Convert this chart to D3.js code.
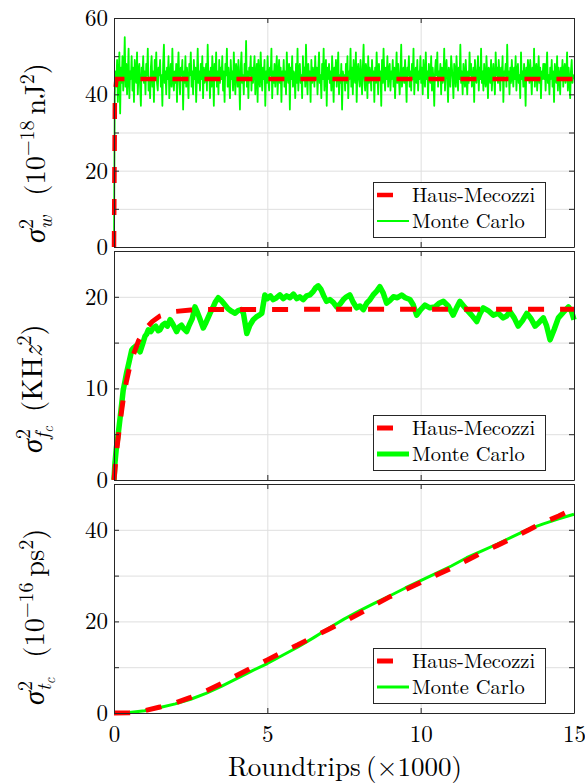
<!DOCTYPE html>
<html><head><meta charset="utf-8">
<script src="https://cdn.jsdelivr.net/npm/d3@7"></script>
<style>body{margin:0;background:#fff}svg{display:block}</style>
</head><body><svg id="c" width="585" height="783"></svg>
<script>
// ---------------- DATA ----------------
const xTickValues = [0, 5, 10, 15];
const xTickLabels = ["0", "5", "10", "15"];
const seriesNames = ["Haus-Mecozzi", "Monte Carlo"];

// Panel 1: sigma_w^2 (1e-18 nJ^2)
const yTicks1 = [0, 10, 20, 30, 40, 50, 60];
const yTickLabels1 = [0, 20, 40, 60];
const hm1 = [[0, 0], [0.03, 40], [0.08, 44], [15, 44]];
const mc1 = [
0,40,46,42,49,38,45,51,35,47,43,50,41,46,55,42,48,40,45,52,
39,46,44,50,41,47,38,49,45,43,51,40,46,48,42,37,47,44,50,43,
46,40,48,45,52,41,44,39,47,50,42,46,38,49,44,51,43,41,47,45,
49,42,45,37,48,53,43,46,40,47,44,50,39,45,48,42,52,44,41,46,
43,48,38,46,51,44,40,47,45,49,36,46,43,50,42,47,44,39,48,45,
51,42,46,40,49,44,47,38,45,52,43,46,41,48,44,50,39,47,43,45,
48,41,53,44,46,39,47,42,50,45,37,48,44,51,42,46,40,49,43,47,
44,50,41,46,38,48,45,52,42,47,43,39,49,44,46,41,51,45,40,48,
46,42,49,44,36,47,51,43,45,40,48,44,54,42,46,39,47,45,50,41,
47,43,46,50,40,45,48,38,49,44,42,51,45,41,47,44,49,37,46,43,
50,44,41,47,45,52,39,46,43,48,42,46,50,40,45,49,43,47,38,46,
44,49,42,46,40,51,45,43,48,36,47,44,50,42,46,45,39,48,43,52,
41,46,48,43,45,39,50,44,47,42,53,45,40,48,44,46,38,49,43,47,
45,42,50,44,47,40,46,51,43,45,39,48,44,52,41,46,49,37,47,44,
48,43,46,41,50,45,38,47,44,49,42,46,51,40,45,43,48,36,46,44,
45,41,48,43,50,39,46,44,52,42,47,40,49,45,43,51,38,46,48,44,
42,49,45,40,47,53,44,41,48,46,39,50,43,47,45,41,49,44,46,38,
47,43,51,45,40,48,44,46,37,49,43,52,45,41,47,44,50,42,46,48,
41,46,44,49,42,47,39,45,51,43,48,44,40,46,53,42,45,47,43,49,
44,38,47,45,50,42,46,41,48,44,52,40,45,47,43,49,41,46,44,50,
43,47,40,49,45,42,51,44,46,39,48,45,43,50,41,47,44,37,46,49,
45,51,42,46,44,48,40,47,43,45,52,41,46,49,44,38,47,45,42,50,
47,44,39,48,46,42,50,45,41,47,44,53,43,46,40,48,45,42,49,44,
40,46,43,51,45,48,42,44,47,38,49,45,43,46,50,41,47,44,52,43,
46,41,48,44,42,50,45,39,47,46,43,49,41,45,48,44,40,51,45,47,
43,49,45,41,47,44,50,38,46,45,48,42,53,44,46,40,47,43,49,45,
42,47,44,50,41,46,48,43,45,39,51,44,46,42,48,45,37,47,44,49,
46,43,49,45,40,47,44,52,42,46,48,41,45,50,43,47,39,46,44,48,
44,48,41,46,51,43,45,40,47,44,49,42,46,38,48,45,43,50,41,47,
45,40,47,44,49,42,46,48,43,45,51,41,47,44,39,46,49,43,45,44];

// Panel 2: sigma_fc^2 (KHz^2)
const yTicks2 = [0, 5, 10, 15, 20, 25];
const yTickLabels2 = [0, 10, 20];
const hm2 = [[0,0],[0.1,3.6],[0.2,6.4],[0.3,8.8],[0.4,10.7],[0.5,12.2],[0.6,13.4],[0.8,15.2],[1.0,16.4],[1.25,17.3],[1.5,17.9],[2,18.4],[2.5,18.55],[3,18.62],[15,18.65]];
const mc2 = [[0,0],[0.03,1.8],[0.08,3.6],[0.14,5.1],[0.2,6.8],[0.3,9.8],[0.36,10.8],[0.41,11.7],[0.5,13.0],[0.58,14.2],[0.63,14.4],[0.7,14.6],[0.78,14.3],[0.85,14.0],[0.93,14.8],[1.01,15.7],[1.06,15.9],[1.12,16.4],[1.2,16.2],[1.28,16.6],[1.36,16.8],[1.44,16.3],[1.5,16.4],[1.58,16.9],[1.66,17.1],[1.74,16.8],[1.83,17.5],[1.92,17.0],[2.04,16.2],[2.12,16.7],[2.2,16.9],[2.28,16.5],[2.37,16.2],[2.45,16.9],[2.55,17.6],[2.64,18.9],[2.72,18.3],[2.8,17.6],[2.91,16.6],[3.0,17.2],[3.13,18.2],[3.22,18.8],[3.3,19.4],[3.4,19.9],[3.5,19.6],[3.62,19.1],[3.72,18.7],[3.84,18.4],[3.95,18.2],[4.05,18.5],[4.15,18.6],[4.22,18.2],[4.33,16.0],[4.43,16.9],[4.54,17.5],[4.64,17.8],[4.74,18.0],[4.82,18.2],[4.92,20.2],[5.0,19.8],[5.1,20.1],[5.19,19.7],[5.3,19.9],[5.41,20.2],[5.52,19.8],[5.63,20.1],[5.74,19.9],[5.85,20.3],[5.96,19.8],[6.06,20.0],[6.17,19.7],[6.28,20.1],[6.39,20.2],[6.5,20.6],[6.58,21.0],[6.66,21.2],[6.75,20.8],[6.84,20.1],[6.93,19.5],[7.04,19.7],[7.15,19.4],[7.26,18.9],[7.37,19.2],[7.48,19.7],[7.58,20.0],[7.69,20.2],[7.8,19.4],[7.91,18.8],[8.02,19.0],[8.13,18.6],[8.24,19.3],[8.35,19.7],[8.45,20.2],[8.56,20.6],[8.67,21.1],[8.78,20.4],[8.89,19.3],[9.0,19.6],[9.11,20.0],[9.24,19.9],[9.38,20.2],[9.5,19.9],[9.65,19.7],[9.76,19.1],[9.87,18.0],[10.0,18.6],[10.14,19.1],[10.3,18.8],[10.47,18.9],[10.6,19.3],[10.74,19.5],[10.9,19.0],[11.06,18.0],[11.17,18.8],[11.28,19.5],[11.4,19.0],[11.5,18.6],[11.66,18.0],[11.83,17.3],[11.94,18.2],[12.04,18.8],[12.2,18.5],[12.37,18.0],[12.53,18.2],[12.69,17.7],[12.8,17.9],[12.91,18.4],[13.05,17.7],[13.18,16.8],[13.32,17.4],[13.46,18.2],[13.6,17.6],[13.73,16.8],[13.86,17.2],[14.0,17.7],[14.1,16.9],[14.22,15.3],[14.35,16.4],[14.49,17.7],[14.65,18.3],[14.82,18.9],[14.92,18.4],[15.0,17.5]];

// Panel 3: sigma_tc^2 (1e-16 ps^2)
const yTicks3 = [0, 10, 20, 30, 40, 50];
const yTickLabels3 = [0, 20, 40];
const hm3 = [[0,0],[0.5,0.05],[1,0.5],[1.5,1.3],[2,2.2],[2.5,3.4],[3,4.8],[3.5,6.4],[4,8.2],[4.5,9.9],[5,11.6],[5.5,13.3],[6,14.9],[6.5,16.6],[7,18.3],[7.5,19.9],[8,21.7],[8.5,23.6],[9,25.4],[9.5,26.9],[10,28.5],[10.5,30.1],[11,31.6],[11.5,33.3],[12,35.0],[12.5,36.6],[13,38.2],[13.5,39.9],[14,41.6],[14.5,43.0],[15,44.6]];
const mc3 = [[0,0],[0.5,0.1],[1,0.5],[1.5,1.2],[2,2.0],[2.5,3.0],[3,4.3],[3.5,5.8],[4,7.5],[4.5,9.2],[5,10.8],[5.5,12.6],[6,14.4],[6.5,16.4],[7,18.5],[7.5,20.5],[8,22.3],[8.5,24.0],[9,25.6],[9.5,27.3],[10,28.9],[10.5,30.5],[11,32.1],[11.5,33.9],[12,35.4],[12.5,36.9],[13,38.5],[13.5,40.1],[14,41.3],[14.5,42.4],[15,43.4]];

// ---------------- DRAW ----------------
const FONT = '"Latin Modern Roman"';
const svg = d3.select("#c");
const L = 114, R = 574, PH = 229;
const axisColor = "#262626", gridColor = "#dfdfdf";
const RED = "#ff0000", GREEN = "#00ff00";
const x = d3.scaleLinear().domain([0, 15]).range([L, R]);

const mc1pts = mc1.map((v, i) => [i * 15 / (mc1.length - 1), v]);

const panels = [
  {top: 18, domain: [0, 60], ticks: yTicks1, labels: yTickLabels1, hm: hm1, mc: mc1pts, hmW: 4.5, mcW: 1.8, legTop: 182, legMcW: 2},
  {top: 251, domain: [0, 25], ticks: yTicks2, labels: yTickLabels2, hm: hm2, mc: mc2, hmW: 5, mcW: 5.5, legTop: 415, legMcW: 5},
  {top: 484, domain: [0, 50], ticks: yTicks3, labels: yTickLabels3, hm: hm3, mc: mc3, hmW: 5, mcW: 3, legTop: 648, legMcW: 3}
];

panels.forEach((p, pi) => {
  const y = d3.scaleLinear().domain(p.domain).range([p.top + PH, p.top]);
  const g = svg.append("g");
  g.append("g").attr("transform", `translate(${L},0)`)
    .call(d3.axisLeft(y).tickValues(p.ticks).tickSize(-(R - L)).tickFormat(""))
    .call(s => { s.select(".domain").remove(); s.selectAll("line").attr("stroke", gridColor); });
  g.append("g").attr("transform", `translate(0,${p.top + PH})`)
    .call(d3.axisBottom(x).tickValues(xTickValues).tickSize(-PH).tickFormat(""))
    .call(s => { s.select(".domain").remove(); s.selectAll("line").attr("stroke", gridColor); });

  const line = d3.line().x(d => x(d[0])).y(d => y(d[1]));
  g.append("path").datum(p.mc).attr("d", line).attr("fill", "none")
    .attr("stroke", GREEN).attr("stroke-width", p.mcW).attr("stroke-linejoin", "round");
  g.append("path").datum(p.hm).attr("d", line).attr("fill", "none")
    .attr("stroke", RED).attr("stroke-width", p.hmW).attr("stroke-dasharray", "16,16");

  const styleAxis = s => {
    s.select(".domain").attr("stroke", axisColor);
    s.selectAll(".tick line").attr("stroke", axisColor);
    s.selectAll("text").attr("fill", "#000").style("font-family", FONT).style("font-size", "23px");
  };
  g.append("g").attr("transform", `translate(${L},0)`)
    .call(d3.axisLeft(y).tickValues(p.ticks).tickSize(-5).tickSizeOuter(0).tickPadding(6)
      .tickFormat(d => p.labels.includes(d) ? d : ""))
    .call(styleAxis);
  g.append("g").attr("transform", `translate(${R},0)`)
    .call(d3.axisRight(y).tickValues(p.ticks).tickSize(-5).tickSizeOuter(0).tickFormat(""))
    .call(styleAxis);
  g.append("g").attr("transform", `translate(0,${p.top})`)
    .call(d3.axisTop(x).tickValues(xTickValues).tickSize(-5).tickSizeOuter(0).tickFormat(""))
    .call(styleAxis);
  g.append("g").attr("transform", `translate(0,${p.top + PH})`)
    .call(d3.axisBottom(x).tickValues(xTickValues).tickSize(-5).tickSizeOuter(0).tickPadding(12.5)
      .tickFormat((d, i) => pi === 2 ? xTickLabels[i] : ""))
    .call(styleAxis);

  const lg = g.append("g");
  lg.append("rect").attr("x", 373.5).attr("y", p.legTop + 0.5).attr("width", 172).attr("height", 55)
    .attr("fill", "#fff").attr("stroke", axisColor).attr("stroke-width", 1);
  lg.append("line").attr("x1", 377).attr("x2", 409).attr("y1", p.legTop + 13).attr("y2", p.legTop + 13)
    .attr("stroke", RED).attr("stroke-width", p.hmW).attr("stroke-dasharray", "16,16");
  lg.append("line").attr("x1", 377).attr("x2", 409).attr("y1", p.legTop + 39).attr("y2", p.legTop + 39)
    .attr("stroke", GREEN).attr("stroke-width", p.legMcW);
  lg.append("text").attr("x", 412).attr("y", p.legTop + 19.5).style("font-size", "20.5px").style("font-family", FONT).text(seriesNames[0]);
  lg.append("text").attr("x", 412).attr("y", p.legTop + 45.5).style("font-size", "20.5px").style("font-family", FONT).text(seriesNames[1]);
});

function yLabel(xb, ys, parts) {
  const t = svg.append("text").attr("transform", `translate(${xb},${ys}) rotate(-90)`)
    .attr("text-anchor", "start").style("font-size", "28.5px").style("font-family", FONT);
  parts.forEach(q => {
    const s = t.append("tspan").text(q.t);
    if (q.i) s.style("font-style", "italic");
    if (q.fs) s.style("font-size", q.fs + "px");
    if (q.dx) s.attr("dx", q.dx);
    if (q.dy) s.attr("dy", q.dy);
  });
}
yLabel(45, 243, [
  {t: "σ", i: 1}, {t: "2", fs: 20, dy: -12}, {t: "w", i: 1, fs: 20, dx: -10, dy: 19},
  {t: "\u2002\u2009(10", dy: -7}, {t: "−18", fs: 20, dy: -11}, {t: "\u2009nJ", dy: 11}, {t: "2", fs: 20, dy: -11}, {t: ")", dy: 11}
]);
yLabel(42, 453, [
  {t: "σ", i: 1}, {t: "2", fs: 20, dy: -12}, {t: "f", i: 1, fs: 20, dx: -10, dy: 19}, {t: "c", i: 1, fs: 14.5, dy: 4},
  {t: "\u2002(KH", dy: -11}, {t: "z", i: 1}, {t: "2", fs: 20, dy: -11}, {t: ")", dy: 11}
]);
yLabel(44, 705, [
  {t: "σ", i: 1}, {t: "2", fs: 20, dy: -12}, {t: "t", i: 1, fs: 20, dx: -10, dy: 19}, {t: "c", i: 1, fs: 14.5, dy: 4},
  {t: "\u2002\u2009(10", dy: -11}, {t: "−16", fs: 20, dy: -11}, {t: "\u2009ps", dy: 11}, {t: "2", fs: 20, dy: -11}, {t: ")", dy: 11}
]);

svg.append("text").attr("x", (L + R) / 2 + 1).attr("y", 776).attr("text-anchor", "middle")
  .style("font-size", "27px").style("font-family", FONT).text("Roundtrips\u2009(×1000)");
</script></body></html>
